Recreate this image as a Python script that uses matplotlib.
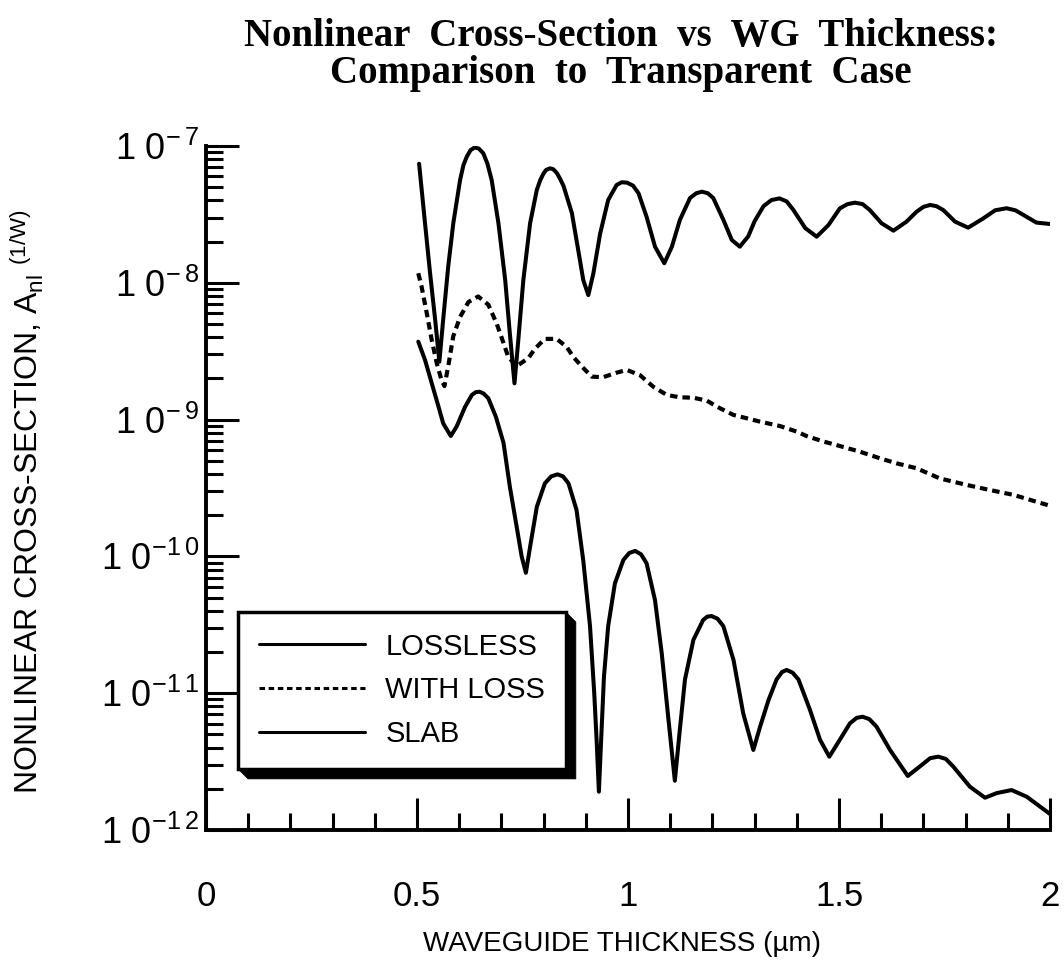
import numpy as np
import matplotlib
matplotlib.use("Agg")
import matplotlib.pyplot as plt
from matplotlib.ticker import FixedLocator, MultipleLocator, LogLocator, NullFormatter
from matplotlib.patches import Polygon
from matplotlib.transforms import IdentityTransform

plt.rcParams['font.family'] = ['Liberation Sans', 'DejaVu Sans']
plt.rcParams['mathtext.default'] = 'regular'

# ---------------- data ----------------
title = "Nonlinear  Cross-Section  vs  WG  Thickness:\nComparison  to  Transparent  Case"
x_label = "WAVEGUIDE THICKNESS (\u00b5m)"
y_label = r"NONLINEAR CROSS-SECTION, A$_{\mathregular{nl}}$ $^{\mathregular{(1/W)}}$"
series_names = ["LOSSLESS", "WITH LOSS", "SLAB"]

x_ticks = [0, 0.5, 1, 1.5, 2]
x_tick_labels = ["0", "0.5", "1", "1.5", "2"]
y_ticks = [1e-12, 1e-11, 1e-10, 1e-9, 1e-8, 1e-7]
y_tick_labels = [r"$\mathregular{1\;0^{-1\,2}}$", r"$\mathregular{1\;0^{-1\,1}}$",
                 r"$\mathregular{1\;0^{-1\,0}}$", r"$\mathregular{1\;0^{-\,9}}$",
                 r"$\mathregular{1\;0^{-\,8}}$", r"$\mathregular{1\;0^{-\,7}}$"]

# LOSSLESS: thickness (um) and log10 of cross-section
lossless_x = [0.505, 0.519, 0.531, 0.543, 0.553, 0.562, 0.574, 0.586, 0.602, 0.610,
              0.618, 0.627, 0.637, 0.647, 0.657, 0.667, 0.677, 0.693, 0.709, 0.720,
              0.731, 0.740, 0.752, 0.768, 0.784, 0.792, 0.800, 0.806, 0.815, 0.823,
              0.832, 0.839, 0.847, 0.867, 0.882, 0.894, 0.906, 0.918, 0.934, 0.953,
              0.973, 0.985, 0.998, 1.012, 1.025, 1.044, 1.064, 1.086, 1.104, 1.123,
              1.147, 1.162, 1.175, 1.189, 1.202, 1.226, 1.246, 1.265, 1.285, 1.300,
              1.321, 1.340, 1.359, 1.376, 1.392, 1.420, 1.447, 1.475, 1.502, 1.520,
              1.538, 1.556, 1.573, 1.601, 1.629, 1.660, 1.684, 1.700, 1.716, 1.731,
              1.747, 1.775, 1.806, 1.842, 1.870, 1.897, 1.918, 1.937, 1.968, 2.000]
lossless_log = [-7.13, -7.565, -7.93, -8.27, -8.577, -8.27, -7.88, -7.565, -7.25, -7.14,
                -7.078, -7.03, -7.01, -7.02, -7.053, -7.13, -7.25, -7.565, -7.98, -8.37,
                -8.735, -8.42, -7.98, -7.565, -7.32, -7.25, -7.20, -7.175, -7.163, -7.17,
                -7.20, -7.24, -7.29, -7.49, -7.76, -7.98, -8.09, -7.93, -7.64, -7.395,
                -7.285, -7.265, -7.268, -7.29, -7.346, -7.517, -7.736, -7.857, -7.736, -7.54,
                -7.38, -7.345, -7.334, -7.345, -7.38, -7.54, -7.687, -7.736, -7.66, -7.55,
                -7.44, -7.395, -7.383, -7.405, -7.468, -7.60, -7.663, -7.578, -7.456, -7.425,
                -7.414, -7.425, -7.468, -7.565, -7.619, -7.553, -7.48, -7.445, -7.431, -7.44,
                -7.468, -7.553, -7.597, -7.529, -7.47, -7.455, -7.47, -7.504, -7.56, -7.57]

# WITH LOSS
withloss_x = [0.503, 0.511, 0.523, 0.535, 0.547, 0.558, 0.565, 0.574, 0.586, 0.602,
              0.622, 0.645, 0.669, 0.689, 0.705, 0.716, 0.736, 0.764, 0.780, 0.803,
              0.831, 0.855, 0.870, 0.890, 0.914, 0.941, 0.973, 0.997, 1.028, 1.060,
              1.092, 1.123, 1.155, 1.187, 1.218, 1.250, 1.281, 1.313, 1.360, 1.400,
              1.423, 1.463, 1.502, 1.550, 1.597, 1.637, 1.684, 1.739, 1.803, 1.858,
              1.913, 2.000]
withloss_log = [-7.93, -8.03, -8.22, -8.42, -8.59, -8.71, -8.755, -8.61, -8.39, -8.25,
                -8.14, -8.10, -8.16, -8.30, -8.44, -8.54, -8.61, -8.55, -8.48, -8.41,
                -8.41, -8.47, -8.54, -8.61, -8.686, -8.69, -8.657, -8.637, -8.674, -8.76,
                -8.82, -8.837, -8.84, -8.862, -8.917, -8.966, -8.99, -9.015, -9.047, -9.088,
                -9.12, -9.16, -9.193, -9.235, -9.283, -9.32, -9.356, -9.43, -9.478, -9.515,
                -9.55, -9.63]

# SLAB
slab_x = [0.503, 0.519, 0.535, 0.551, 0.562, 0.580, 0.594, 0.614, 0.630, 0.639,
          0.648, 0.658, 0.669, 0.687, 0.705, 0.720, 0.736, 0.748, 0.758, 0.768,
          0.784, 0.803, 0.818, 0.833, 0.846, 0.859, 0.878, 0.894, 0.910, 0.920,
          0.926, 0.931, 0.936, 0.943, 0.953, 0.969, 0.989, 1.003, 1.017, 1.031,
          1.044, 1.064, 1.080, 1.096, 1.111, 1.122, 1.135, 1.155, 1.178, 1.188,
          1.198, 1.212, 1.226, 1.250, 1.273, 1.297, 1.313, 1.333, 1.352, 1.365,
          1.376, 1.390, 1.404, 1.431, 1.455, 1.477, 1.502, 1.526, 1.542, 1.556,
          1.572, 1.589, 1.621, 1.663, 1.696, 1.716, 1.735, 1.753, 1.771, 1.810,
          1.846, 1.874, 1.909, 1.945, 2.000]
slab_log = [-8.43, -8.564, -8.735, -8.906, -9.027, -9.12, -9.05, -8.906, -8.82, -8.80,
            -8.796, -8.81, -8.844, -8.98, -9.17, -9.49, -9.78, -10.0, -10.12, -9.93,
            -9.637, -9.466, -9.415, -9.40, -9.415, -9.466, -9.66, -10.03, -10.51, -11.0,
            -11.367, -11.72, -11.367, -10.88, -10.51, -10.197, -10.026, -9.975, -9.96, -9.985,
            -10.05, -10.32, -10.71, -11.196, -11.64, -11.293, -10.90, -10.61, -10.465, -10.44,
            -10.436, -10.455, -10.51, -10.757, -11.147, -11.415, -11.245, -11.05, -10.90, -10.845,
            -10.83, -10.85, -10.90, -11.12, -11.34, -11.464, -11.34, -11.22, -11.18, -11.172,
            -11.19, -11.245, -11.415, -11.605, -11.525, -11.475, -11.464, -11.48, -11.537, -11.683,
            -11.764, -11.73, -11.708, -11.757, -11.883]

# ---------------- figure ----------------
W, H = 1064, 961
fig = plt.figure(figsize=(W / 100, H / 100), dpi=100)
fig.patch.set_facecolor('white')
ax = fig.add_axes([206 / W, 1 - 830 / H, 844 / W, 684 / H])

l1, = ax.plot(lossless_x, 10.0 ** np.array(lossless_log), color='black', lw=2.9,
              solid_joinstyle='round', solid_capstyle='round', label=series_names[0])
l2, = ax.plot(withloss_x, 10.0 ** np.array(withloss_log), color='black', lw=3.0,
              linestyle=(0, (1.8, 1.2)), label=series_names[1])
l3, = ax.plot(slab_x, 10.0 ** np.array(slab_log), color='black', lw=2.9,
              solid_joinstyle='round', solid_capstyle='round', label=series_names[2])

ax.set_yscale('log')
ax.set_xlim(0, 2)
ax.set_ylim(1e-12, 1e-7)

for s in ['top', 'right']:
    ax.spines[s].set_visible(False)
for s in ['left', 'bottom']:
    ax.spines[s].set_linewidth(2.8)

ax.xaxis.set_major_locator(FixedLocator(x_ticks))
ax.set_xticklabels(x_tick_labels)
ax.xaxis.set_minor_locator(MultipleLocator(0.1))
ax.yaxis.set_major_locator(FixedLocator(y_ticks))
ax.set_yticklabels(y_tick_labels)
ax.yaxis.set_minor_locator(LogLocator(base=10, subs=np.arange(2, 10), numticks=20))
ax.yaxis.set_minor_formatter(NullFormatter())

ax.tick_params(axis='both', which='both', direction='in', width=2.2, color='black')
ax.tick_params(axis='y', which='major', length=24, labelsize=26, pad=5)
ax.tick_params(axis='y', which='minor', length=12.5)
ax.tick_params(axis='x', which='major', length=23, labelsize=25, pad=36)
ax.tick_params(axis='x', which='minor', length=12)

ax.set_xlabel(x_label, fontsize=20)
ax.xaxis.set_label_coords(0.493, -0.148)
ax.xaxis.label.set_va('top')
ax.set_ylabel(y_label, fontsize=23)
ax.yaxis.set_label_coords(-0.190, 0.48)

fig.suptitle(title, x=621 / W, y=1 - 55 / H, ha='center', va='center',
             fontsize=28, fontweight='bold', family='Liberation Serif', linespacing=1.02)

leg = ax.legend(loc='upper left', bbox_to_anchor=((238 - 206) / 844, (830 - 612) / 684),
                borderaxespad=0, fontsize=21, handlelength=3.66, handletextpad=0.68,
                borderpad=0.71, labelspacing=0.54, fancybox=False, framealpha=1,
                edgecolor='black')
leg.get_frame().set_linewidth(2.5)
for ln in leg.get_lines():
    ln.set_linewidth(2.2)
leg.set_zorder(10)

fig.canvas.draw()
bb = leg.get_frame().get_window_extent()
x0, y0, x1, y1 = bb.x0, bb.y0, bb.x1, bb.y1
d = 10
shadow = Polygon([(x0, y0), (x0 + d, y0 - d), (x1 + d, y0 - d), (x1 + d, y1 - d), (x1, y1), (x1, y0)],
                 closed=True, facecolor='black', edgecolor='black', lw=0.5,
                 transform=IdentityTransform(), clip_on=False, zorder=9.9)
ax.add_artist(shadow)

fig.savefig('out.png', dpi=100, facecolor='white')
